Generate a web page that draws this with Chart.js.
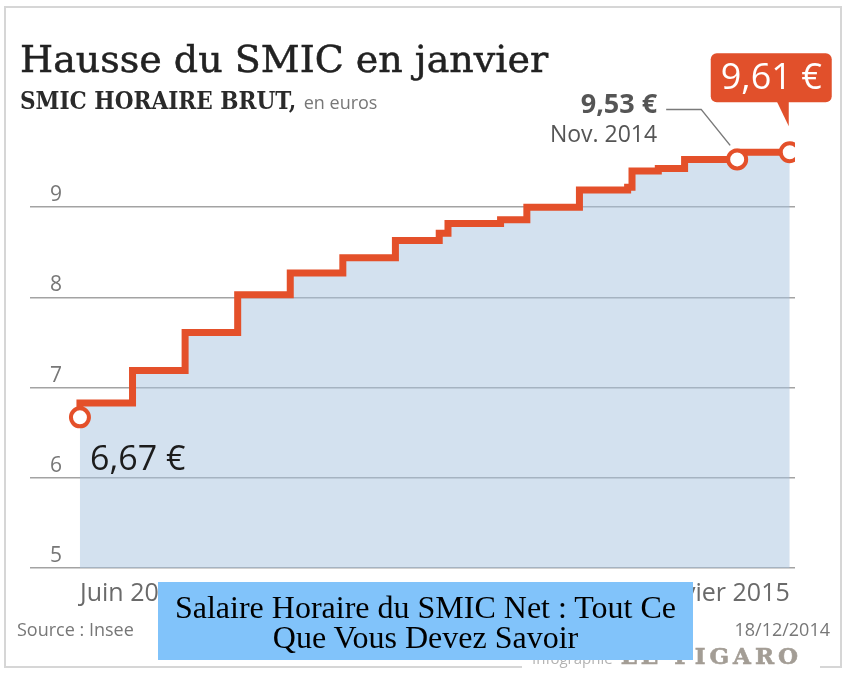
<!DOCTYPE html>
<html lang="fr">
<head>
<meta charset="utf-8">
<script src="https://cdn.jsdelivr.net/npm/chart.js@4/dist/chart.umd.min.js"></script>
<style>
  body { margin: 0; background: #fff; }
  #wrap { position: relative; width: 850px; height: 677px; overflow: hidden; }
  #frame { position: absolute; left: 4px; top: 6px; width: 838px; height: 662px; box-sizing: border-box; border: 2px solid #d6d6d6; }
  #gap { position: absolute; left: 522px; top: 662px; width: 298px; height: 8px; background: #fff; }
  canvas { position: absolute; left: 0; top: 0; }
  .t { position: absolute; white-space: nowrap; }
  #title { left: 20px; top: 40px; font: 38px/38px "DejaVu Serif", serif; color: #222; -webkit-text-stroke: 0.5px #222; }
  #sub { left: 20px; top: 88px; font: bold 24px/26px "DejaVu Serif Condensed", "DejaVu Serif", serif; font-stretch: condensed; color: #2a2a2a; }
  #sub span { font: 18px "Open Sans", sans-serif; color: #777; }
  #source { left: 17px; top: 620px; font: 18px/18px "Open Sans", sans-serif; color: #777; }
  #date { right: 20px; top: 620px; font: 18px/18px "Open Sans", sans-serif; color: #777; }
  #credit { left: 532px; top: 644px; font: 15px/24px "Open Sans", sans-serif; color: #b3b3b3; }
  #credit b { font: bold 23px/24px "DejaVu Serif", serif; color: #a39d95; letter-spacing: 4px; margin-left: 8px; -webkit-text-stroke: 0.6px #a39d95; }
  #caption { position: absolute; left: 158px; top: 582px; width: 535px; height: 78px; background: #81c3fa;
             box-sizing: border-box; padding-top: 10px; text-align: center; font: 32px/30px "Liberation Serif", serif; color: #000; }
</style>
</head>
<body>
<div id="wrap">
  <div id="frame"></div>
  <div id="gap"></div>
  <canvas id="chart" width="850" height="677"></canvas>
  <div class="t" id="title">Hausse du SMIC en janvier</div>
  <div class="t" id="sub">SMIC HORAIRE BRUT, <span>en euros</span></div>
  <div class="t" id="source">Source : Insee</div>
  <div class="t" id="date">18/12/2014</div>
  <div class="t" id="credit">Infographie<b>LE FIGARO</b></div>
  <div id="caption">Salaire Horaire du SMIC Net : Tout Ce<br>Que Vous Devez Savoir</div>
</div>
<script>
// SMIC horaire brut, date of each rise and new value
var dates = ["2001-07", "2002-07", "2003-07", "2004-07", "2005-07", "2006-07", "2007-07", "2008-05", "2008-07",
             "2009-07", "2010-01", "2011-01", "2011-12", "2012-01", "2012-07", "2013-01", "2014-01", "2015-01"];
var smic = [6.67, 6.83, 7.19, 7.61, 8.03, 8.27, 8.44, 8.63, 8.71, 8.82, 8.86, 9.00, 9.19, 9.22, 9.40, 9.43, 9.53, 9.61];
var xTickLabels = ["Juin 2001", "Janvier 2015"];
var yTicks = [5, 6, 7, 8, 9];

var orange = "#e4502a";

// month string -> decimal year
var xs = dates.map(function (d) {
  var p = d.split("-");
  return +p[0] + (p[1] - 1) / 12;
});
var last = smic.length - 1;
var nov = dates.indexOf("2014-01");
var marked = [0, nov, last];

function euro(v) { return v.toFixed(2).replace(".", ",") + " €"; }

var labels = {
  id: "labels",
  afterDatasetsDraw: function (chart) {
    var ctx = chart.ctx, x = chart.scales.x, y = chart.scales.y;
    ctx.save();

    // first value
    var x0 = x.getPixelForValue(xs[0]), y0 = y.getPixelForValue(smic[0]);
    ctx.fillStyle = "#1c1c1c";
    ctx.font = '34px "Open Sans"';
    ctx.textAlign = "left";
    ctx.textBaseline = "alphabetic";
    ctx.fillText(euro(smic[0]), x0 + 10, y0 + 53);

    // 9,53 with leader
    var x1 = x.getPixelForValue(xs[nov]), y1 = y.getPixelForValue(smic[nov]);
    ctx.strokeStyle = "#7a7a7a";
    ctx.lineWidth = 1.5;
    ctx.beginPath();
    ctx.moveTo(x1 - 71, y1 - 50);
    ctx.lineTo(x1 - 36, y1 - 50);
    ctx.lineTo(x1 - 7, y1 - 14);
    ctx.stroke();
    ctx.fillStyle = "#555";
    ctx.textAlign = "right";
    ctx.textBaseline = "middle";
    ctx.font = 'bold 27px "Open Sans"';
    ctx.fillText(euro(smic[nov]), x1 - 80, y1 - 54);
    ctx.font = '23px "Open Sans"';
    ctx.fillText("Nov. 2014", x1 - 80, y1 - 24);

    // last value bubble
    var x2 = x.getPixelForValue(xs[last]), y2 = y.getPixelForValue(smic[last]);
    var top = y2 - 99, bot = y2 - 50, l = x2 - 79, r = x2 + 42;
    ctx.fillStyle = "#e1502b";
    ctx.beginPath();
    ctx.roundRect(l, top, r - l, bot - top, 6);
    ctx.fill();
    ctx.beginPath();
    ctx.moveTo(x2 - 13, bot - 1);
    ctx.lineTo(x2 - 1, y2 - 26);
    ctx.lineTo(x2 - 1, bot - 1);
    ctx.closePath();
    ctx.fill();
    ctx.fillStyle = "#fff";
    ctx.textAlign = "center";
    ctx.font = '36px "Open Sans"';
    ctx.fillText(euro(smic[last]), (l + r) / 2, (top + bot) / 2 + 1);
    ctx.restore();
  }
};

new Chart(document.getElementById("chart"), {
  type: "line",
  data: {
    datasets: [{
      data: xs.map(function (v, i) { return { x: v, y: smic[i] }; }),
      stepped: "after",
      borderColor: orange,
      borderWidth: 7,
      borderJoinStyle: "miter",
      fill: "start",
      backgroundColor: "rgba(168,196,224,0.5)",
      pointRadius: function (c) { return marked.indexOf(c.dataIndex) >= 0 ? 9 : 0; },
      pointBackgroundColor: "#fff",
      pointBorderColor: orange,
      pointBorderWidth: 4
    }]
  },
  options: {
    responsive: false,
    animation: false,
    layout: { padding: { left: 30, right: 55, top: 117, bottom: 57 } },
    plugins: { legend: { display: false }, tooltip: { enabled: false } },
    scales: {
      x: {
        type: "linear",
        min: 2000.55,
        max: 2015.1,
        afterBuildTicks: function (s) {
          s.ticks = [{ value: xs[0] }, { value: xs[last] }];
        },
        ticks: {
          align: "inner",
          autoSkip: false,
          maxRotation: 0,
          padding: 11,
          color: "#6a6a6a",
          font: { family: "Open Sans", size: 25 },
          callback: function (v, i) { return xTickLabels[i]; }
        },
        grid: { display: false, drawTicks: false },
        border: { display: false }
      },
      y: {
        min: yTicks[0],
        max: yTicks[yTicks.length - 1] + 1,
        afterBuildTicks: function (s) {
          s.ticks = yTicks.map(function (v) { return { value: v }; });
        },
        afterFit: function (s) { s.width = 0; },
        ticks: {
          mirror: true,
          padding: 20,
          labelOffset: -12,
          color: "#777",
          font: { family: "Open Sans", size: 21 }
        },
        grid: { color: "#a3a3a3", lineWidth: 1.5, drawTicks: false },
        border: { display: false }
      }
    }
  },
  plugins: [labels]
});
</script>
</body>
</html>
